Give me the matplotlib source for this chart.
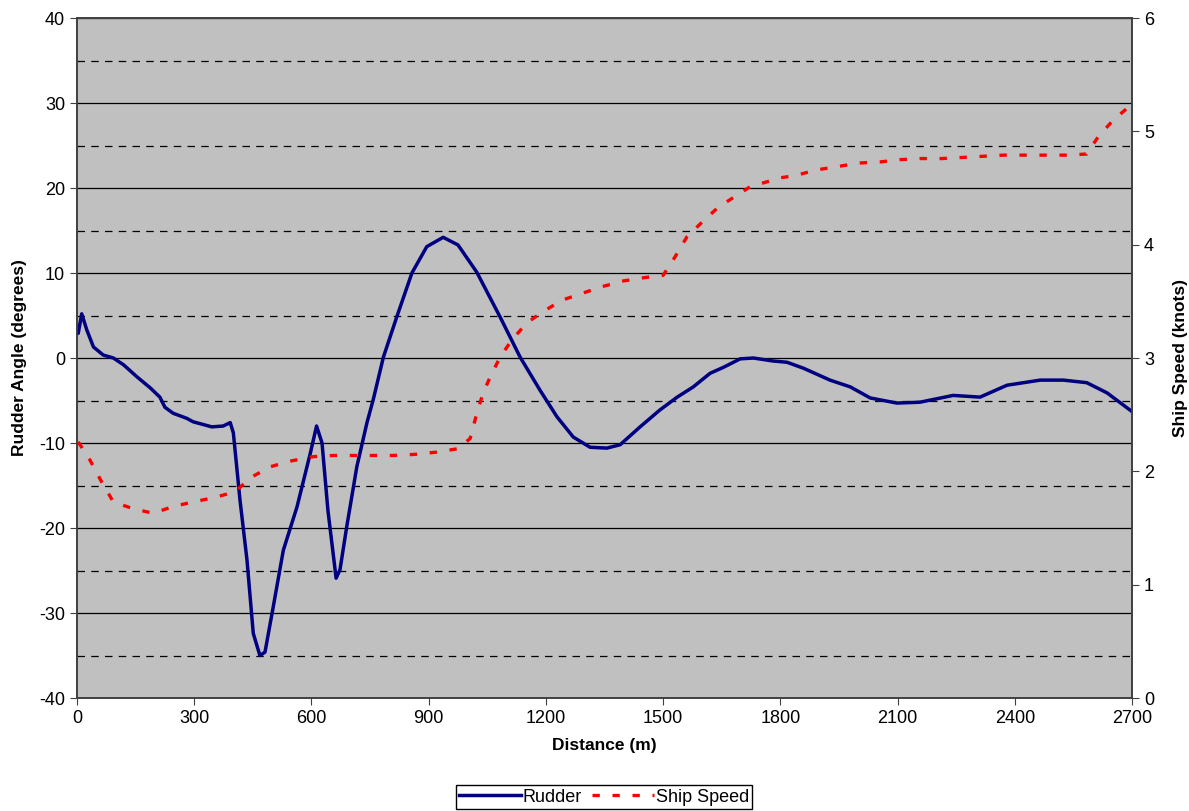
import matplotlib
matplotlib.use("Agg")
import matplotlib.pyplot as plt
from matplotlib.ticker import MultipleLocator

plt.rcParams['font.family'] = ['Liberation Sans', 'DejaVu Sans']
plt.rcParams['axes.unicode_minus'] = False

# rudder angle (degrees) vs distance (m)
rudder_d = [0, 3, 12, 25, 42, 67, 93, 119, 153, 187, 212, 225, 246, 281, 297, 345, 374,
            392, 400, 417, 435, 451, 468, 481, 502, 528, 563, 597, 613, 627, 642, 663,
            673, 690, 716, 742, 758, 784, 818, 857, 895, 937, 975, 1023, 1083, 1134,
            1185, 1228, 1270, 1313, 1356, 1390, 1441, 1492, 1536, 1577, 1620, 1654,
            1697, 1731, 1781, 1817, 1859, 1927, 1979, 2030, 2098, 2157, 2242, 2311,
            2380, 2465, 2524, 2584, 2636, 2700]
rudder = [2.9, 2.9, 5.2, 3.3, 1.3, 0.35, 0.0, -0.8, -2.2, -3.5, -4.6, -5.8, -6.5, -7.1,
          -7.5, -8.1, -8.0, -7.6, -8.8, -16.7, -23.8, -32.4, -35.0, -34.6, -29.3, -22.6,
          -17.5, -11.2, -8.0, -10.0, -17.9, -25.9, -24.9, -19.9, -12.8, -7.6, -4.9, 0.1,
          4.8, 10.0, 13.1, 14.2, 13.3, 10.1, 4.8, 0.1, -3.8, -6.9, -9.3, -10.5, -10.6,
          -10.2, -8.1, -6.1, -4.6, -3.4, -1.8, -1.1, -0.1, 0.0, -0.35, -0.5, -1.2, -2.6,
          -3.4, -4.7, -5.3, -5.2, -4.4, -4.6, -3.2, -2.6, -2.6, -2.9, -4.1, -6.3]

# ship speed (knots) vs distance (m)
speed_d = [3, 33, 64, 93, 144, 195, 246, 297, 353, 404, 447, 494, 545, 605, 656, 810,
           865, 921, 975, 1006, 1023, 1039, 1057, 1083, 1113, 1151, 1193, 1241, 1292,
           1344, 1398, 1454, 1500, 1530, 1561, 1600, 1641, 1722, 1800, 1838, 1893, 1948,
           1999, 2055, 2106, 2157, 2214, 2268, 2319, 2370, 2426, 2482, 2533, 2584, 2613,
           2652, 2700]
speed = [2.26, 2.10, 1.90, 1.73, 1.67, 1.63, 1.69, 1.73, 1.77, 1.82, 1.95, 2.04, 2.09,
         2.13, 2.14, 2.14, 2.15, 2.17, 2.20, 2.29, 2.51, 2.69, 2.83, 3.01, 3.16, 3.31,
         3.41, 3.51, 3.57, 3.63, 3.68, 3.71, 3.73, 3.89, 4.07, 4.20, 4.33, 4.51, 4.59,
         4.61, 4.66, 4.69, 4.72, 4.73, 4.75, 4.76, 4.76, 4.77, 4.78, 4.79, 4.79, 4.79,
         4.79, 4.80, 4.95, 5.10, 5.24]

fig = plt.figure(figsize=(11.89, 8.11), dpi=100)
ax = fig.add_axes([0.0648, 0.1393, 0.8873, 0.8385])
ax.set_facecolor('#C0C0C0')

ax.set_xlim(0, 2700)
ax.set_ylim(-40, 40)
ax.xaxis.set_major_locator(MultipleLocator(300))
ax.yaxis.set_major_locator(MultipleLocator(10))
ax.yaxis.set_minor_locator(MultipleLocator(5))
ax.grid(True, which='major', axis='y', color='black', linewidth=0.9)
ax.grid(True, which='minor', axis='y', color='black', linewidth=0.9, linestyle=(0, (6, 5)))
ax.set_axisbelow(True)
ax.tick_params(axis='y', which='minor', length=0)
ax.tick_params(axis='both', which='major', labelsize=13, direction='out', length=5,
               color='#404040')

l1, = ax.plot(rudder_d, rudder, color='#000080', linewidth=2.5, label='Rudder', zorder=3,
              solid_joinstyle='round')

ax2 = ax.twinx()
ax2.set_ylim(0, 6)
ax2.yaxis.set_major_locator(MultipleLocator(1))
ax2.tick_params(axis='y', labelsize=13, direction='out', length=5, color='#404040')
l2, = ax2.plot(speed_d, speed, color='#FF0000', linewidth=2.4, linestyle=(0, (2.2, 3.8)),
               label='Ship Speed')

for a in (ax, ax2):
    for s in a.spines.values():
        s.set_color('#404040')
        s.set_linewidth(1.2)

ax.set_xlabel('Distance (m)', fontsize=12.5, fontweight='bold', labelpad=8)
ax.set_ylabel('Rudder Angle (degrees)', fontsize=12.5, fontweight='bold', labelpad=9)
ax2.set_ylabel('Ship Speed (knots)', fontsize=12.5, fontweight='bold', labelpad=14)

fig.legend([l1, l2], ['Rudder', 'Ship Speed'], loc='upper center',
           bbox_to_anchor=(0.508, 1 - 785 / 811), ncol=2, fontsize=13,
           frameon=True, fancybox=False, edgecolor='black', framealpha=1,
           handlelength=3.4, handletextpad=0.1, columnspacing=0.6,
           borderpad=0.2, borderaxespad=0)

fig.savefig('out.png', dpi=100)
